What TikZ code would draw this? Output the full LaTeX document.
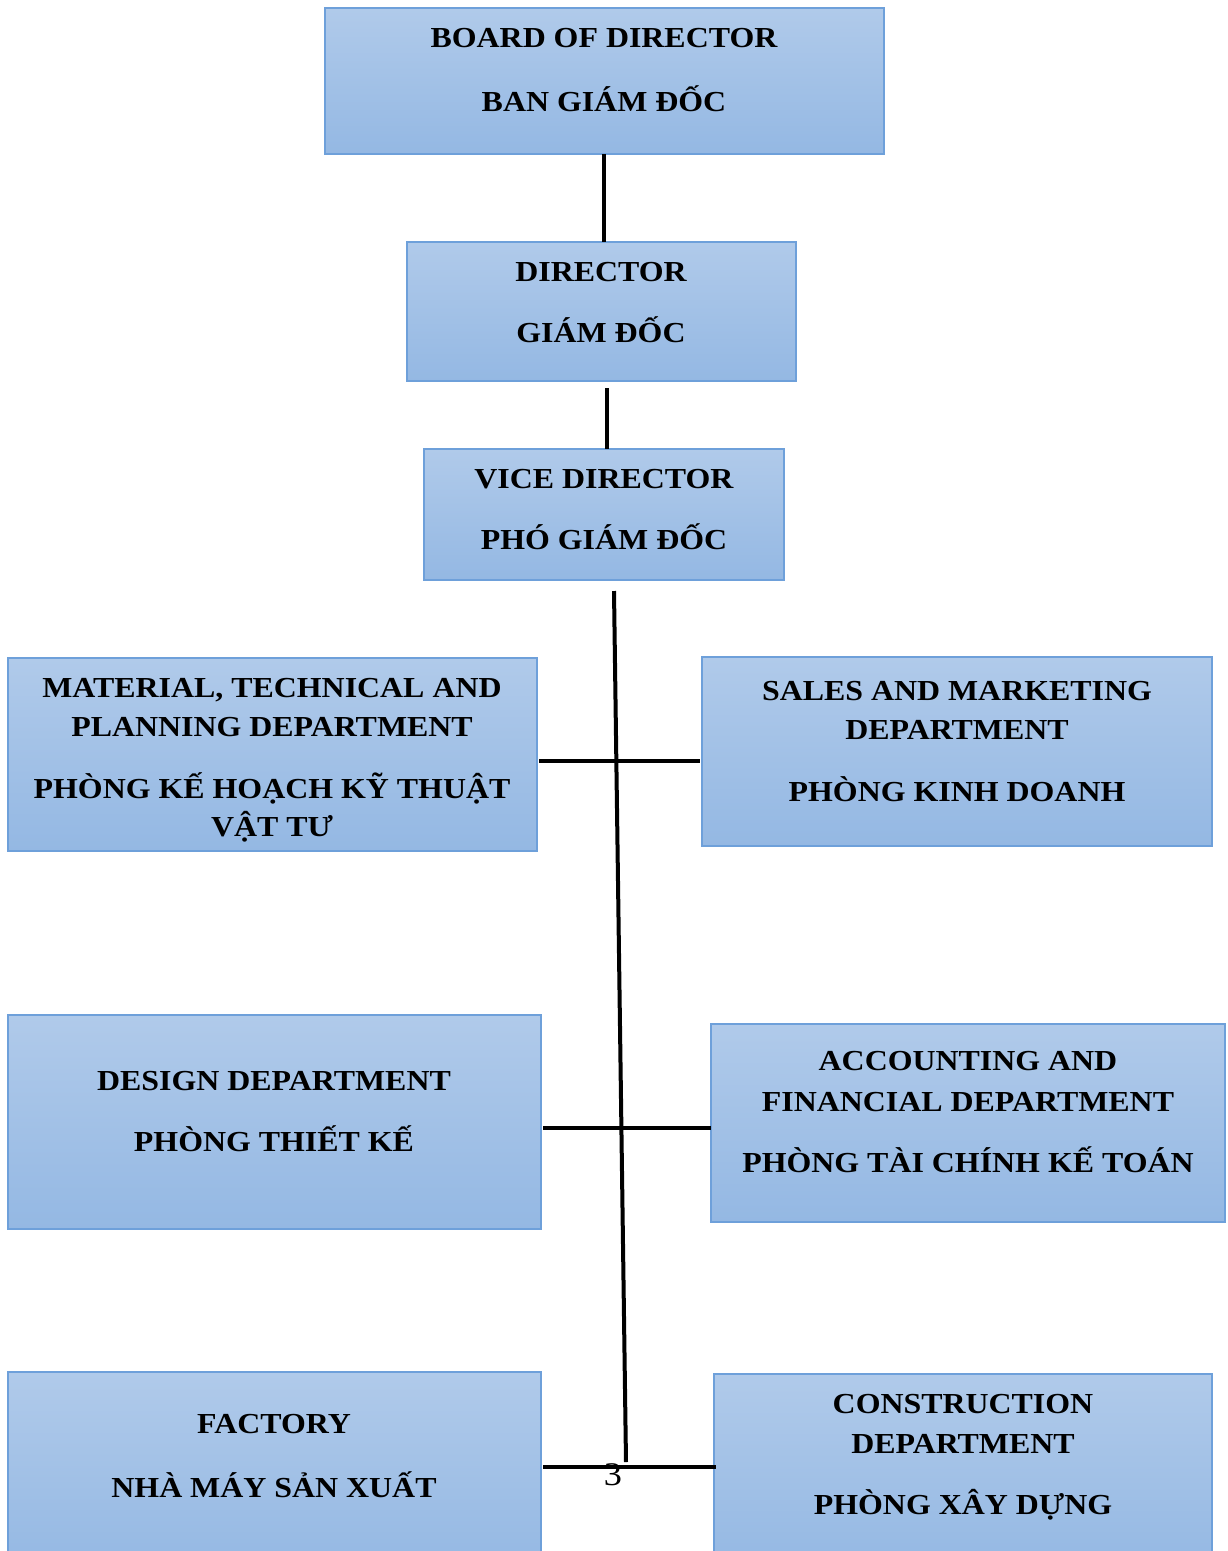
\documentclass[tikz,border=0pt]{standalone}
\usepackage{fontspec}
\setmainfont{Liberation Serif}
\newfontfamily\boxfont{Liberation Serif}[FakeStretch=1.1]
\begin{document}
\begin{tikzpicture}[x=1pt,y=-1pt,
  box/.style={rectangle, draw={rgb,255:red,110;green,160;blue,218}, line width=1.2pt,
    top color={rgb,255:red,176;green,202;blue,234}, bottom color={rgb,255:red,148;green,184;blue,227},
    inner sep=0pt, outer sep=0pt},
  txt/.style={anchor=base, inner sep=0pt, font=\boxfont\fontsize{29}{31}\selectfont\bfseries},
  conn/.style={line width=4pt, black}]
\useasboundingbox (0,0) rectangle (1227,1551);
\clip (0,0) rectangle (1227,1551);
% boxes
\path[box] (325,8) rectangle (884,154);
\coordinate (boardS) at (604,154);
\path[box] (407,242) rectangle (796,381);
\coordinate (dirN) at (604,242);
\coordinate (dirS) at (607,388);
\path[box] (424,449) rectangle (784,580);
\coordinate (viceN) at (607,449);
\coordinate (viceS) at (614,591);
\path[box] (8,658) rectangle (537,851);
\path[box] (702,657) rectangle (1212,846);
\path[box] (8,1015) rectangle (541,1229);
\path[box] (711,1024) rectangle (1225,1222);
\path[box] (8,1372) rectangle (541,1570);
\path[box] (714,1374) rectangle (1212,1570);
% texts
\node[txt] (t1a) at (604,47) {BOARD OF DIRECTOR};
\node[txt] (t1b) at (604,111) {BAN GIÁM ĐỐC};
\node[txt] (t2a) at (601,281) {DIRECTOR};
\node[txt] (t2b) at (601,342) {GIÁM ĐỐC};
\node[txt] (t3a) at (604,488) {VICE DIRECTOR};
\node[txt] (t3b) at (604,549) {PHÓ GIÁM ĐỐC};
\node[txt] (t4a) at (272,697) {MATERIAL, TECHNICAL AND};
\node[txt] (t4b) at (272,736) {PLANNING DEPARTMENT};
\node[txt] (t4c) at (272,798) {PHÒNG KẾ HOẠCH KỸ THUẬT};
\node[txt] (t4d) at (272,836) {VẬT TƯ};
\node[txt] (t5a) at (957,700) {SALES AND MARKETING};
\node[txt] (t5b) at (957,739) {DEPARTMENT};
\node[txt] (t5c) at (957,801) {PHÒNG KINH DOANH};
\node[txt] (t6a) at (274,1090) {DESIGN DEPARTMENT};
\node[txt] (t6b) at (274,1151) {PHÒNG THIẾT KẾ};
\node[txt] (t7a) at (968,1070) {ACCOUNTING AND};
\node[txt] (t7b) at (968,1111) {FINANCIAL DEPARTMENT};
\node[txt] (t7c) at (968,1172) {PHÒNG TÀI CHÍNH KẾ TOÁN};
\node[txt] (t8a) at (274,1433) {FACTORY};
\node[txt] (t8b) at (274,1497) {NHÀ MÁY SẢN XUẤT};
\node[txt] (t9a) at (963,1413) {CONSTRUCTION};
\node[txt] (t9b) at (963,1453) {DEPARTMENT};
\node[txt] (t9c) at (963,1514) {PHÒNG XÂY DỰNG};
% connectors
\coordinate (spineEnd) at (626,1462);
\coordinate (l1a) at (539,761); \coordinate (l1b) at (700,761);
\coordinate (l2a) at (543,1128); \coordinate (l2b) at (711,1128);
\coordinate (l3a) at (543,1467); \coordinate (l3b) at (716,1467);
\draw[conn] (boardS) -- (dirN);
\draw[conn] (dirS) -- (viceN);
\draw[conn] (viceS) -- (spineEnd);
\draw[conn] (l1a) -- (l1b);
\draw[conn] (l2a) -- (l2b);
\draw[conn] (l3a) -- (l3b);
\node[anchor=base, inner sep=0pt, font=\boxfont\fontsize{33}{35}\selectfont] (pg) at (613,1485) {3};
\end{tikzpicture}
\end{document}
